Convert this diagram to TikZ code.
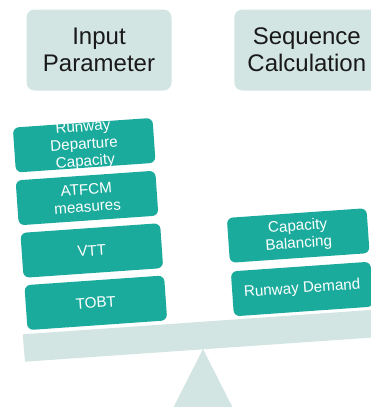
\documentclass[tikz,border=0pt]{standalone}
\usepackage{fontspec}
\setmainfont{Liberation Sans}
\definecolor{seesawteal}{HTML}{1AAB9C}
\definecolor{seesawpale}{HTML}{D2E5E2}
\begin{document}
\begin{tikzpicture}[x=1pt, y=-1pt,
	heading/.style={fill=seesawpale, rounded corners=8pt, minimum width=145pt, minimum height=81pt, inner sep=0pt, align=center, text=black!90, font=\fontsize{24}{27}\selectfont},
	stack/.style={fill=seesawteal, rounded corners=6pt, minimum width=140pt, minimum height=45pt, inner sep=0pt, rotate=4, align=center, text=white, font=\fontsize{15.2}{17.2}\selectfont},
	stacklabel/.style={rotate=4, align=center, text=white, inner sep=0pt, font=\fontsize{15.2}{17.2}\selectfont}]
		\useasboundingbox (0,0) rectangle (371,407);
		\clip (0,0) rectangle (371,407);
		% headings
		\node[heading] (input) at (99,50) {Input\\Parameter};
		\node[heading] (seq) at (306.8,50) {Sequence\\Calculation};
		% seesaw
		\fill[seesawpale] (22.7,334.3) -- (380,309.3) -- (380,337) -- (25,361.7) -- cycle;
		\fill[seesawpale] (203,349) -- (239,420) -- (167,420) -- cycle;
		% left pan
		\node[stack, label={[stacklabel]center:Runway\\Departure\\Capacity}] (rdc) at (84.2,145.2) {};
		\node[stack] (atfcm) at (87,198) {ATFCM\\measures};
		\node[stack] (vtt) at (91.8,250.5) {VTT};
		\node[stack] (tobt) at (95.8,302.8) {TOBT};
		% right pan
		\node[stack] (capbal) at (298.2,235.5) {Capacity\\Balancing};
		\node[stack] (rwydem) at (302.2,289) {Runway Demand};
\end{tikzpicture}
\end{document}
